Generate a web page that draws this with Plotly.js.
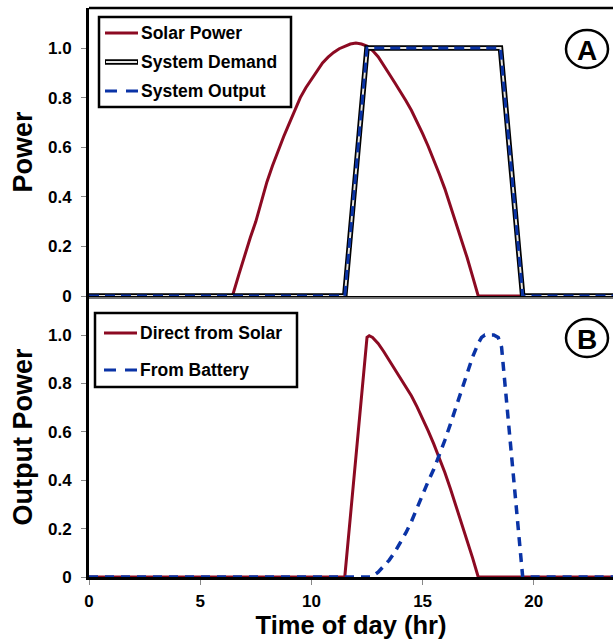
<!DOCTYPE html>
<html><head><meta charset="utf-8">
<script src="https://cdn.plot.ly/plotly-3.0.1.min.js"></script>
<style>html,body{margin:0;padding:0;background:#fff;} #chart{width:613px;height:641px;}</style>
</head><body><div id="chart"></div>
<script>
// ---------- data ----------
const solarTime  = [0, 6.45, 6.75, 7, 7.25, 7.5, 7.75, 8, 8.25, 8.5, 8.75, 9, 9.25, 9.5, 9.75, 10, 10.25, 10.5, 10.75, 11, 11.25, 11.5, 11.75, 12,
                    12.25, 12.5, 12.75, 13, 13.25, 13.5, 13.75, 14, 14.25, 14.5, 14.75, 15, 15.25, 15.5, 15.75, 16, 16.25, 16.5, 16.75, 17, 17.25, 17.5, 24];
const solarPower = [0, 0, 0.09, 0.165, 0.235, 0.30, 0.38, 0.46, 0.525, 0.585, 0.642, 0.695, 0.75, 0.80, 0.84, 0.875, 0.91, 0.94, 0.963, 0.982, 0.997, 1.008, 1.016, 1.02,
                    1.016, 1.008, 0.99, 0.965, 0.932, 0.895, 0.86, 0.825, 0.787, 0.748, 0.703, 0.655, 0.604, 0.55, 0.492, 0.432, 0.365, 0.295, 0.225, 0.155, 0.078, 0, 0];

const demandTime   = [0, 11.5, 12.5, 18.5, 19.5, 24];
const systemDemand = [0, 0, 1, 1, 0, 0];
const systemOutput = [0, 0, 1, 1, 0, 0];

const directTime  = [0, 11.5, 12.5, 12.6, 12.75, 13, 13.25, 13.5, 13.75, 14, 14.25, 14.5, 14.75, 15, 15.25, 15.5, 15.75, 16, 16.25, 16.5, 16.75, 17, 17.25, 17.5, 24];
const directSolar = [0, 0, 0.99, 0.997, 0.99, 0.965, 0.932, 0.895, 0.86, 0.825, 0.787, 0.748, 0.703, 0.655, 0.604, 0.55, 0.492, 0.432, 0.365, 0.295, 0.225, 0.155, 0.078, 0, 0];

const batteryTime = [0, 12.7, 13, 13.25, 13.5, 13.75, 14, 14.25, 14.5, 14.75, 15, 15.25, 15.5, 15.75, 16, 16.25, 16.5, 16.75, 17, 17.25, 17.5, 17.65, 17.8, 18.2, 18.4, 18.55, 19, 19.45, 19.5, 24];
const fromBattery = [0, 0, 0.02, 0.043, 0.07, 0.103, 0.14, 0.183, 0.23, 0.285, 0.345, 0.395, 0.445, 0.503, 0.565, 0.632, 0.70, 0.77, 0.84, 0.91, 0.965, 0.99, 1.0, 1.0, 0.99, 0.95, 0.5, 0.02, 0, 0];

const yTickVals = [0, 0.2, 0.4, 0.6, 0.8, 1.0];
const yTickText = ['0', '0.2', '0.4', '0.6', '0.8', '1.0'];
const xTickVals = [0, 5, 10, 15, 20];
const xTickText = ['0', '5', '10', '15', '20'];

const legendA = ['Solar Power', 'System Demand', 'System Output'];
const legendB = ['Direct from Solar', 'From Battery'];

// ---------- styling ----------
const FONT = 'Liberation Sans, Arial, Helvetica, sans-serif';
const RED = '#8c0a22';
const BLUE = '#0a33a6';
const W = 613, H = 641, L = 89, R = 0, T = 8, B = 64;
const plotW = W - L - R, plotH = H - T - B;
const px = x => (x - L) / plotW;
const py = y => (H - B - y) / plotH;

const traces = [
  {x: solarTime, y: solarPower, xaxis: 'x', yaxis: 'y', mode: 'lines', line: {color: RED, width: 3}, hoverinfo: 'skip'},
  {x: demandTime, y: systemDemand, xaxis: 'x', yaxis: 'y', mode: 'lines', line: {color: '#000', width: 5.5}, hoverinfo: 'skip'},
  {x: demandTime, y: systemDemand, xaxis: 'x', yaxis: 'y', mode: 'lines', line: {color: '#e4e4e4', width: 2}, hoverinfo: 'skip'},
  {x: demandTime, y: systemOutput, xaxis: 'x', yaxis: 'y', mode: 'lines', line: {color: BLUE, width: 3, dash: '10px,6px'}, hoverinfo: 'skip'},
  {x: directTime, y: directSolar, xaxis: 'x2', yaxis: 'y2', mode: 'lines', line: {color: RED, width: 3}, hoverinfo: 'skip'},
  {x: batteryTime, y: fromBattery, xaxis: 'x2', yaxis: 'y2', mode: 'lines', line: {color: BLUE, width: 3.5, dash: '9px,7px'}, hoverinfo: 'skip'}
];

const tickFont = {family: FONT, size: 17, color: '#000', weight: 700};
const titleFont = {family: FONT, size: 27, color: '#000', weight: 700};

const shapes = [];
const annotations = [];
function pline(x0, y0, x1, y1, color, width, dash) {
  shapes.push({type: 'line', xref: 'paper', yref: 'paper', x0: px(x0), y0: py(y0), x1: px(x1), y1: py(y1),
    line: {color: color, width: width, dash: dash || 'solid'}});
}
function prect(x0, y0, x1, y1, width) {
  shapes.push({type: 'rect', xref: 'paper', yref: 'paper', x0: px(x0), y0: py(y0), x1: px(x1), y1: py(y1),
    line: {color: '#000', width: width}, fillcolor: '#fff', layer: 'above'});
}
function ptext(x, y, text, size, anchor) {
  annotations.push({xref: 'paper', yref: 'paper', x: px(x), y: py(y), text: text, showarrow: false,
    xanchor: anchor || 'left', yanchor: 'middle', font: {family: FONT, size: size, color: '#000', weight: 700}});
}

// frame pieces
pline(L, 8, W + 2, 8, '#000', 2.5);           // top border of panel A
pline(L, 298, W + 2, 298, '#9a9a9a', 1.5);     // top border of panel B

// legend A
prect(99, 17, 291, 107, 2.5);
pline(105, 33, 138, 33, RED, 3);
pline(105, 62, 138, 62, '#000', 5.5);
pline(106, 62, 137, 62, '#e4e4e4', 2);
pline(105, 91, 138, 91, BLUE, 3, '12px,9px');
ptext(139, 33, legendA[0], 17.5);
ptext(139, 62, legendA[1], 17.5);
ptext(139, 91, legendA[2], 17.5);

// legend B
prect(95, 313, 297, 387, 2.5);
pline(104, 333, 137, 333, RED, 3);
pline(104, 370, 137, 370, BLUE, 3, '12px,9px');
ptext(138, 333, legendB[0], 17.5);
ptext(138, 370, legendB[1], 17.5);

// panel letters
shapes.push({type: 'circle', xref: 'paper', yref: 'paper', x0: px(566), x1: px(608), y0: py(30), y1: py(68), line: {color: '#000', width: 2.5}});
shapes.push({type: 'circle', xref: 'paper', yref: 'paper', x0: px(566), x1: px(608), y0: py(319), y1: py(357), line: {color: '#000', width: 2.5}});
ptext(587, 50, 'A', 28, 'center');
ptext(587, 339, 'B', 28, 'center');

const xRange = [0, 23.56];
const layout = {
  width: W, height: H,
  margin: {l: L, r: R, t: T, b: B, pad: 0},
  paper_bgcolor: '#fff', plot_bgcolor: '#fff',
  showlegend: false,
  font: {family: FONT, color: '#000'},
  xaxis: {domain: [0, 1], range: xRange, anchor: 'y', showticklabels: false, ticks: '',
    showline: true, linecolor: '#000', linewidth: 3, showgrid: false, zeroline: false, layer: 'below traces'},
  yaxis: {domain: [py(296), 1], range: [0, 288 / 248], anchor: 'x',
    tickvals: yTickVals, ticktext: yTickText, ticks: 'outside', ticklen: 5, tickwidth: 1, tickcolor: '#888',
    ticklabelstandoff: 6, tickfont: tickFont,
    showline: true, linecolor: '#000', linewidth: 3, showgrid: false, zeroline: false,
    title: {text: 'Power', font: titleFont, standoff: 8}},
  xaxis2: {domain: [0, 1], range: xRange, anchor: 'y2', matches: 'x',
    tickvals: xTickVals, ticktext: xTickText, ticks: 'outside', ticklen: 5, tickwidth: 1, tickcolor: '#888',
    ticklabelstandoff: 2, tickfont: tickFont,
    showline: true, linecolor: '#000', linewidth: 3, showgrid: false, zeroline: false, layer: 'below traces',
    title: {text: 'Time of day (hr)', font: {family: FONT, size: 25.5, color: '#000', weight: 700}, standoff: 6}},
  yaxis2: {domain: [0, py(297)], range: [0, 280 / 242], anchor: 'x2',
    tickvals: yTickVals, ticktext: yTickText, ticks: 'outside', ticklen: 5, tickwidth: 1, tickcolor: '#888',
    ticklabelstandoff: 6, tickfont: tickFont,
    showline: true, linecolor: '#000', linewidth: 3, showgrid: false, zeroline: false,
    title: {text: 'Output Power', font: titleFont, standoff: 8}},
  shapes: shapes,
  annotations: annotations
};

Plotly.newPlot('chart', traces, layout, {staticPlot: true, displayModeBar: false});
</script>
</body></html>
